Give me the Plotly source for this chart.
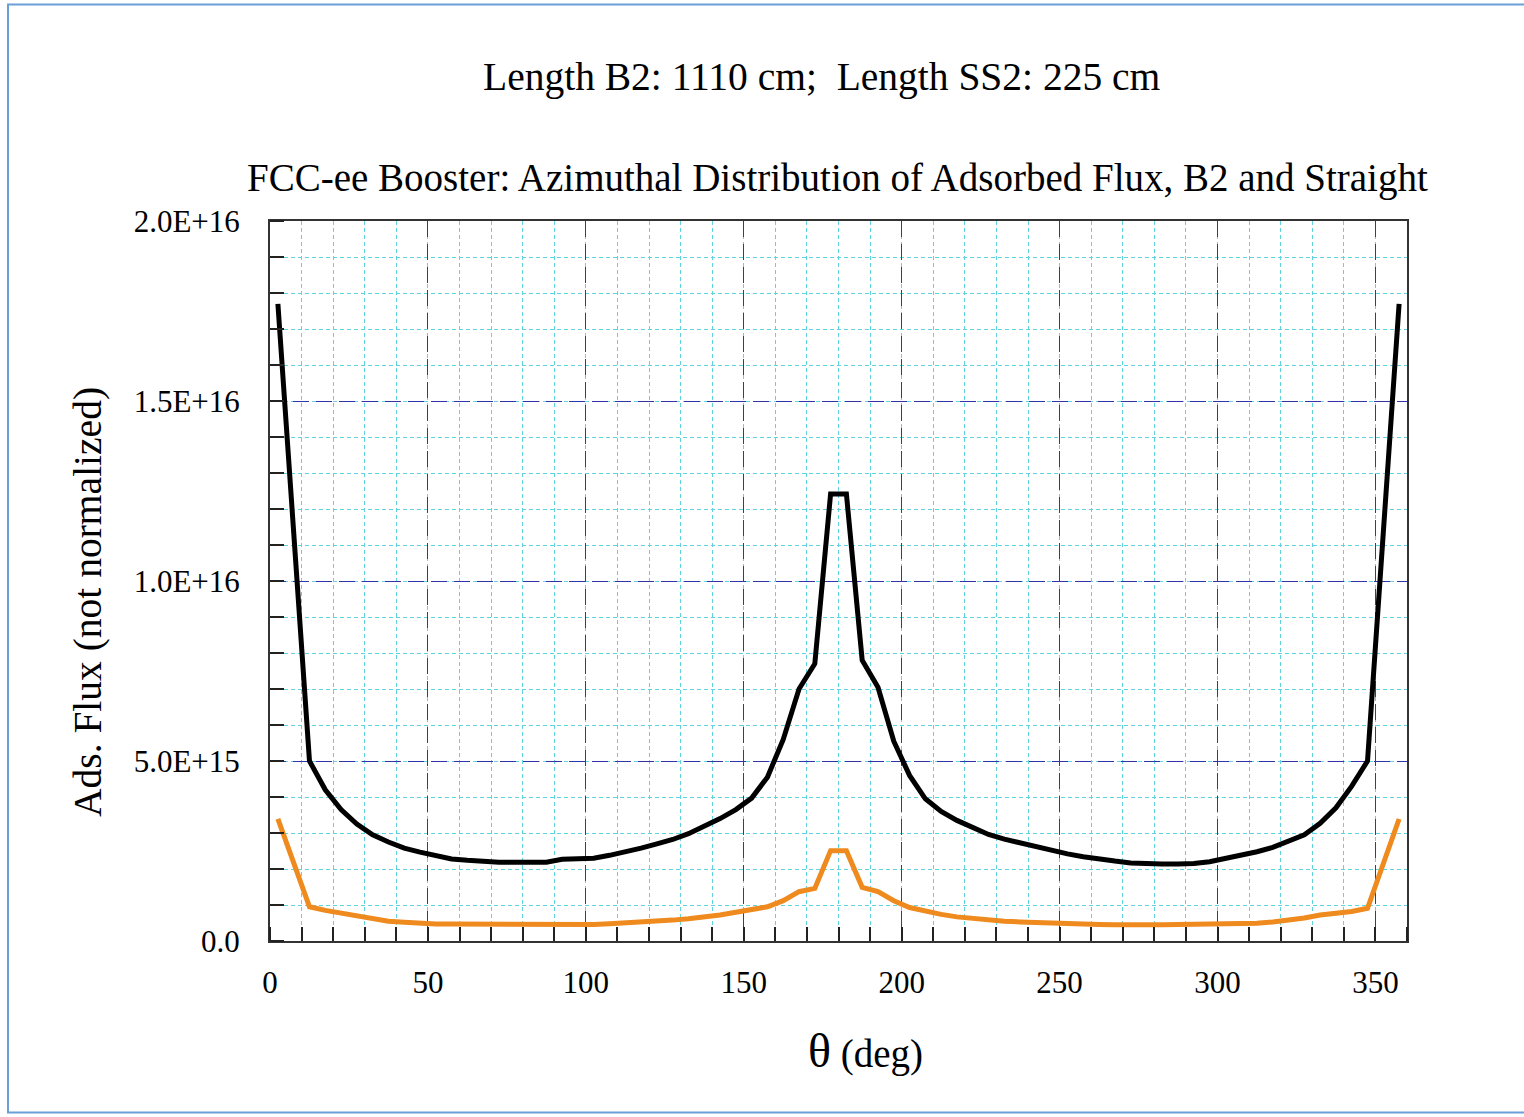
import plotly.graph_objects as go

# ---- data ----
theta = [2.5, 12.5, 17.5, 22.5, 27.5, 32.5, 37.5, 42.5, 47.5, 52.5, 57.5, 62.5,
         67.5, 72.5, 77.5, 82.5, 87.5, 92.5, 97.5, 102.5, 107.5, 112.5, 117.5,
         122.5, 127.5, 132.5, 137.5, 142.5, 147.5, 152.5, 157.5, 162.5, 167.5,
         172.5, 177.5, 182.5, 187.5, 192.5, 197.5, 202.5, 207.5, 212.5, 217.5,
         222.5, 227.5, 232.5, 237.5, 242.5, 247.5, 252.5, 257.5, 262.5, 267.5,
         272.5, 277.5, 282.5, 287.5, 292.5, 297.5, 302.5, 307.5, 312.5, 317.5,
         322.5, 327.5, 332.5, 337.5, 342.5, 347.5, 357.5]

flux_b2 = [17.7e15, 5.0e15, 4.2e15, 3.65e15, 3.25e15, 2.95e15, 2.75e15, 2.58e15,
           2.47e15, 2.37e15, 2.28e15, 2.24e15, 2.20e15, 2.19e15, 2.19e15, 2.19e15,
           2.19e15, 2.27e15, 2.30e15, 2.30e15, 2.38e15, 2.47e15, 2.58e15, 2.70e15,
           2.82e15, 2.98e15, 3.18e15, 3.40e15, 3.65e15, 3.97e15, 4.55e15, 5.6e15,
           7.0e15, 7.7e15, 12.42e15, 12.42e15, 7.8e15, 7.05e15, 5.55e15, 4.6e15,
           3.95e15, 3.6e15, 3.35e15, 3.15e15, 2.96e15, 2.83e15, 2.72e15, 2.62e15,
           2.52e15, 2.42e15, 2.34e15, 2.27e15, 2.22e15, 2.17e15, 2.14e15, 2.14e15,
           2.14e15, 2.15e15, 2.20e15, 2.29e15, 2.38e15, 2.48e15, 2.60e15, 2.76e15,
           2.95e15, 3.27e15, 3.70e15, 4.30e15, 5.0e15, 17.7e15]

flux_straight = [3.39e15, 0.95e15, 0.85e15, 0.77e15, 0.68e15, 0.61e15, 0.55e15,
                 0.52e15, 0.48e15, 0.47e15, 0.47e15, 0.47e15, 0.47e15, 0.46e15,
                 0.45e15, 0.45e15, 0.44e15, 0.44e15, 0.45e15, 0.46e15, 0.48e15,
                 0.50e15, 0.53e15, 0.55e15, 0.58e15, 0.62e15, 0.66e15, 0.72e15,
                 0.80e15, 0.88e15, 0.95e15, 1.12e15, 1.37e15, 1.46e15, 2.51e15,
                 2.51e15, 1.49e15, 1.37e15, 1.12e15, 0.93e15, 0.82e15, 0.74e15,
                 0.67e15, 0.62e15, 0.57e15, 0.55e15, 0.53e15, 0.51e15, 0.49e15,
                 0.48e15, 0.47e15, 0.46e15, 0.45e15, 0.44e15, 0.45e15, 0.45e15,
                 0.46e15, 0.46e15, 0.46e15, 0.46e15, 0.46e15, 0.49e15, 0.53e15,
                 0.58e15, 0.64e15, 0.72e15, 0.77e15, 0.82e15, 0.91e15, 3.39e15]

x_ticks = [0, 50, 100, 150, 200, 250, 300, 350]
x_ticktext = ["0", "50", "100", "150", "200", "250", "300", "350"]
y_ticks = [0, 5e15, 1e16, 1.5e16, 2e16]
y_ticktext = ["0.0", "5.0E+15", "1.0E+16", "1.5E+16", "2.0E+16"]

title_top = "Length B2: 1110 cm;&nbsp; Length SS2: 225 cm"
title_main = "FCC-ee Booster: Azimuthal Distribution of Adsorbed Flux, B2 and Straight"
y_title = "Ads. Flux (not normalized)"
x_title = "<span style='font-size:48px'>θ</span> (deg)"

FONT = "Liberation Serif, Times New Roman, serif"
MAJOR_GRID = "#3434a8"
MINOR_GRID = "#5fd4de"

fig = go.Figure()
fig.add_trace(go.Scatter(x=theta, y=flux_straight, mode="lines",
                         line=dict(color="#ee8a1e", width=5), name="Straight"))
fig.add_trace(go.Scatter(x=theta, y=flux_b2, mode="lines",
                         line=dict(color="black", width=5), name="B2"))

axis_common = dict(
    showgrid=True, gridcolor=MAJOR_GRID, griddash="16px,7px", gridwidth=1.2,
    showline=True, linecolor="#333333", linewidth=2, mirror=True,
    zeroline=False, ticks="", tickfont=dict(size=31, family=FONT, color="black"),
)

fig.update_xaxes(
    range=[0, 360], tickvals=x_ticks, ticktext=x_ticktext,
    ticklabelstandoff=13,
    minor=dict(dtick=10, tick0=0, showgrid=True, gridcolor=MINOR_GRID,
               griddash="4px,3px", gridwidth=1, ticks="inside", ticklen=14,
               tickcolor="#222222", tickwidth=2),
    **axis_common,
)
fig.update_yaxes(
    range=[0, 2e16], tickvals=y_ticks, ticktext=y_ticktext,
    ticklabelstandoff=22,
    minor=dict(dtick=1e15, tick0=0, showgrid=True, gridcolor=MINOR_GRID,
               griddash="4px,3px", gridwidth=1, ticks="inside", ticklen=14,
               tickcolor="#222222", tickwidth=2),
    **axis_common,
)

W, H = 1524, 1117
L, R, T, B = 270, 117, 221, 176
pw, ph = W - L - R, H - T - B


def px(xpix):
    return (xpix - L) / pw


def py(ypix):
    return (H - B - ypix) / ph


fig.update_layout(
    width=W, height=H,
    margin=dict(l=L, r=R, t=T, b=B),
    paper_bgcolor="white", plot_bgcolor="white",
    showlegend=False,
    font=dict(family=FONT, color="black"),
    annotations=[
        dict(text=title_top, x=px(822), y=py(77), xref="paper", yref="paper",
             xanchor="center", yanchor="middle", showarrow=False,
             font=dict(size=39.5, family=FONT, color="black")),
        dict(text=title_main, x=px(837), y=py(178), xref="paper", yref="paper",
             xanchor="center", yanchor="middle", showarrow=False,
             font=dict(size=39, family=FONT, color="black")),
        dict(text=y_title, x=px(88), y=py(602), xref="paper", yref="paper",
             xanchor="center", yanchor="middle", showarrow=False, textangle=-90,
             font=dict(size=39.5, family=FONT, color="black")),
        dict(text=x_title, x=px(865), y=py(1050), xref="paper", yref="paper",
             xanchor="center", yanchor="middle", showarrow=False,
             font=dict(size=39, family=FONT, color="black")),
    ],
    shapes=[
        dict(type="rect", xref="paper", yref="paper",
             x0=px(8), x1=px(1535), y0=py(1112.5), y1=py(4.5),
             line=dict(color="#6a9fd8", width=2), fillcolor="rgba(0,0,0,0)",
             layer="above"),
    ],
)

fig.write_html("out.html")
